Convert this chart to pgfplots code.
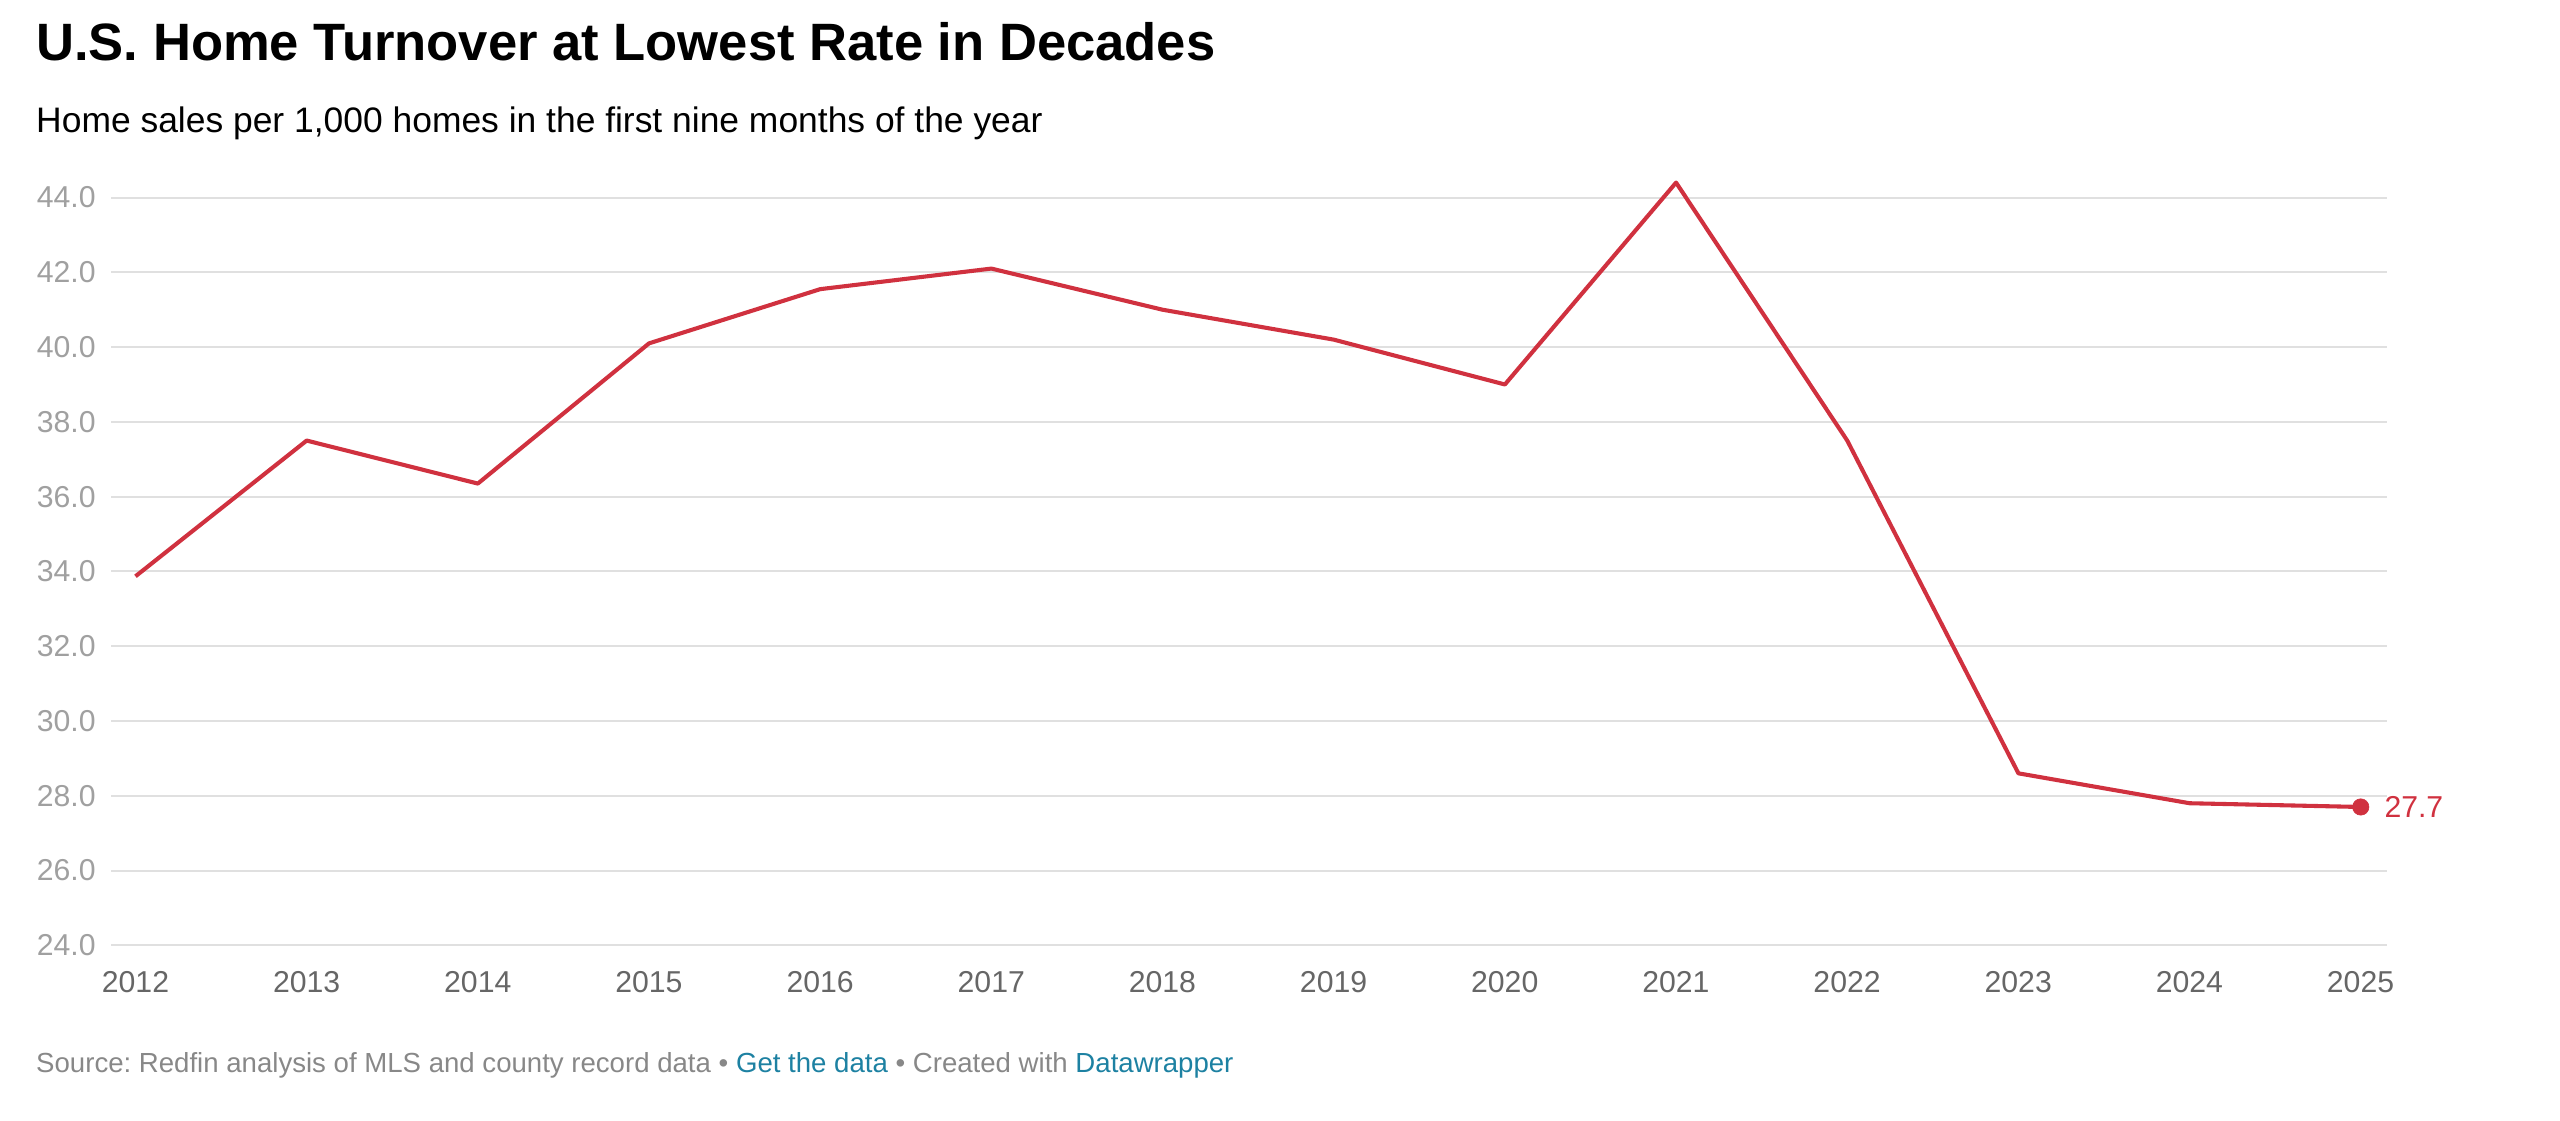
\documentclass[border=0pt]{standalone}
\usepackage{pgfplots}
\pgfplotsset{compat=1.18}
\usepackage{fontspec}
\setmainfont{Liberation Sans}
\frenchspacing

\definecolor{linered}{RGB}{208,49,63}
\definecolor{gridgray}{RGB}{224,224,224}
\definecolor{ylabgray}{RGB}{160,160,160}
\definecolor{xlabgray}{RGB}{102,102,102}
\definecolor{srcgray}{RGB}{136,136,136}
\definecolor{linkblue}{RGB}{29,129,162}

\begin{document}
\begin{tikzpicture}[x=1pt,y=1pt]
\useasboundingbox (0,0) rectangle (1568,686.5);

% header and footer
\node[anchor=base west,inner sep=0pt] at (22,649.5)
  {\fontsize{32.2}{36}\selectfont\bfseries U.S. Home Turnover at Lowest Rate in Decades};
\node[anchor=base west,inner sep=0pt] at (22,605.5)
  {\fontsize{21.7}{24}\selectfont Home sales per 1,000 homes in the first nine months of the year};
\node[anchor=base west,inner sep=0pt,text=srcgray] at (22,29.5)
  {\fontsize{16.9}{19}\selectfont Source: Redfin analysis of MLS and county record data
   \textbullet{} \textcolor{linkblue}{Get the data} \textbullet{} Created with \textcolor{linkblue}{Datawrapper}};

\begin{axis}[
    at={(68pt,107.5pt)}, anchor=south west,
    scale only axis,
    width=1394pt, height=458pt,
    xmin=2011.857, xmax=2025.153,
    ymin=24, ymax=44,
    axis line style={draw=none},
    clip=false,
    xtick={2012,...,2025},
    ytick={24,26,...,44},
    xticklabel style={/pgf/number format/1000 sep={}},
    yticklabel style={/pgf/number format/fixed,/pgf/number format/fixed zerofill,
        /pgf/number format/precision=1},
    /pgf/number format/assume math mode=true,
    ymajorgrids=true,
    grid style={gridgray, line width=1.2pt},
    major tick length=0pt,
    tick label style={font=\fontsize{18.5}{22}\selectfont},
    yticklabel style={text=ylabgray, anchor=west, xshift=-49pt},
    xticklabel style={text=xlabgray, anchor=base, yshift=-29pt},
    ]
\addplot[linered, line width=2.5pt, line join=round] coordinates {
    (2012,33.87) (2013,37.5) (2014,36.35) (2015,40.1) (2016,41.55)
    (2017,42.1) (2018,41.0) (2019,40.2) (2020,39.0) (2021,44.4)
    (2022,37.5) (2023,28.6) (2024,27.8) (2025,27.7)
};
\addplot[only marks, mark=*, mark size=5pt, linered] coordinates {(2025,27.7)}
  node[anchor=west, xshift=11pt, text=linered, font=\fontsize{18.5}{22}\selectfont] {27.7};
\end{axis}
\end{tikzpicture}
\end{document}
